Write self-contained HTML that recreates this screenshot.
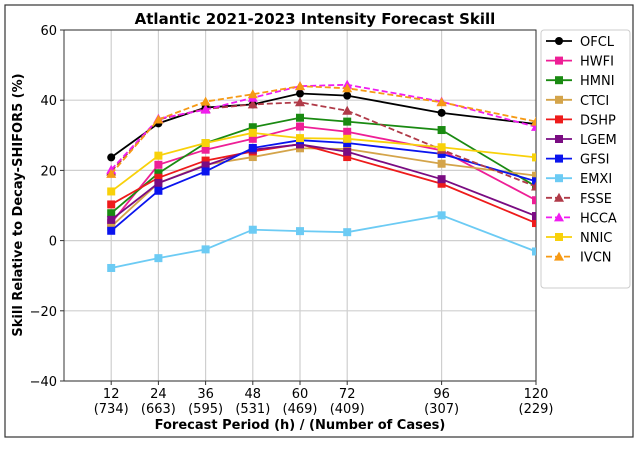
<!DOCTYPE html>
<html><head><meta charset="utf-8"><style>
body{margin:0;background:#fff;}
svg{font-family:"DejaVu Sans","Liberation Sans",sans-serif;}
</style></head><body>
<svg id="c" width="638" height="445" xmlns="http://www.w3.org/2000/svg">
<rect x="5" y="5" width="628" height="432" fill="#fff" stroke="#333" stroke-width="1.2"/>
<text x="315" y="24" text-anchor="middle" font-weight="bold" font-size="15">Atlantic 2021-2023 Intensity Forecast Skill</text>
<text transform="translate(22,205) rotate(-90)" text-anchor="middle" font-weight="bold" font-size="13">Skill Relative to Decay-SHIFOR5 (%)</text>
<text x="300" y="429" text-anchor="middle" font-weight="bold" font-size="13">Forecast Period (h) / (Number of Cases)</text>
<g id="grid"></g><g id="axes"></g><g id="series"></g><g id="legend"></g>
</svg>
<script>
const hours=[12,24,36,48,60,72,96,120];
const cases=["734","663","595","531","469","409","307","229"];
const yTicks=[-40,-20,0,20,40,60];
const OFCL=[23.7,33.4,37.9,38.8,41.9,41.3,36.4,33.2];
const HWFI=[5,21.6,25.9,29,32.5,31,25.7,11.5];
const HMNI=[7.8,19.2,27.8,32.3,35,33.9,31.5,15.4];
const CTCI=[4,16.4,21.6,23.8,26.3,26.1,21.9,18.5];
const DSHP=[10.3,17.9,22.8,25.4,27.5,23.8,16.2,5];
const LGEM=[5.9,16.4,21.4,25.9,27.4,25.3,17.5,7];
const GFSI=[2.8,14.2,19.7,26.4,28.6,27.8,24.7,16.9];
const EMXI=[-7.8,-5,-2.5,3.1,2.7,2.4,7.2,-3.1];
const FSSE=[19.7,34.5,37.5,38.8,39.4,37,25.9,15.4];
const HCCA=[20.2,34.7,37.3,40.7,44,44.4,39.6,32.4];
const NNIC=[14,24.2,27.8,30.7,29.2,29,26.6,23.7];
const IVCN=[19,34.5,39.6,41.7,44,43.4,39.4,33.9];
const series=[
["OFCL",OFCL,"#000000","circle",false],["HWFI",HWFI,"#ee1f96","square",false],
["HMNI",HMNI,"#1a8a12","square",false],["CTCI",CTCI,"#d4a44a","square",false],
["DSHP",DSHP,"#ee1b1b","square",false],["LGEM",LGEM,"#7a0c82","square",false],
["GFSI",GFSI,"#0a14ee","square",false],["EMXI",EMXI,"#6ccbf4","square",false],
["FSSE",FSSE,"#b03a48","tri",true],["HCCA",HCCA,"#f01cf0","tri",true],
["NNIC",NNIC,"#f8d10a","square",false],["IVCN",IVCN,"#f69a14","tri",true]];
const L=64,R=536,T=30,B=381;
const x=h=>L+(h-0)/(120-0)*(R-L);
const y=v=>T+(60-v)/(100)*(B-T);
const NS="http://www.w3.org/2000/svg";
function mk(tag,attrs,parent){const e=document.createElementNS(NS,tag);for(const k in attrs)e.setAttribute(k,attrs[k]);parent.appendChild(e);return e;}
const grid=document.getElementById('grid'),axes=document.getElementById('axes'),sg=document.getElementById('series'),lg=document.getElementById('legend');
hours.forEach((h,i)=>{
 const g=mk('line',{x1:x(h),x2:x(h),y1:T,y2:B,stroke:'#cfcfcf','stroke-width':1.2},grid);
 
 const tk=mk('line',{x1:x(h),x2:x(h),y1:B,y2:B+4,stroke:'#333'},axes);
 
 const t=mk('text',{x:x(h),y:B+17,'text-anchor':'middle','font-size':13},axes);t.textContent=h;
 
 const t2=mk('text',{x:x(h),y:B+32,'text-anchor':'middle','font-size':13},axes);t2.textContent='('+cases[i]+')';
 
});
yTicks.forEach(v=>{
 const g=mk('line',{x1:L,x2:R,y1:y(v),y2:y(v),stroke:'#cfcfcf','stroke-width':1.2},grid);
 
 const tk=mk('line',{x1:L-4,x2:L,y1:y(v),y2:y(v),stroke:'#333'},axes);
 
 const t=mk('text',{x:L-7,y:y(v)+5,'text-anchor':'end','font-size':13},axes);t.textContent=(v<0?'\u2212'+(-v):v);
 
});
const fr=mk('rect',{x:L,y:T,width:R-L,height:B-T,fill:'none',stroke:'#333','stroke-width':1},axes);

function marker(type,cx,cy,col,parent){
 let e;
 if(type==='circle')e=mk('circle',{cx:cx,cy:cy,r:4,fill:col},parent);
 else if(type==='square')e=mk('rect',{x:cx-4,y:cy-4,width:8,height:8,fill:col},parent);
 else e=mk('polygon',{points:`${cx},${cy-5} ${cx-5},${cy+4} ${cx+5},${cy+4}`,fill:col},parent);
 return e;
}
const cp=mk('clipPath',{id:'clip'},document.getElementById('c'));
mk('rect',{x:L,y:T,width:R-L,height:B-T},cp);
sg.setAttribute('clip-path','url(#clip)');
series.forEach(([name,vals,col,mt,dash])=>{
 const g=mk('g',{},sg);
 
 const pts=vals.map((v,i)=>x(hours[i])+','+y(v)).join(' ');
 const pl=mk('polyline',{points:pts,fill:'none',stroke:col,'stroke-width':1.8,'stroke-dasharray':dash?'6,3':'none'},g);
 
 vals.forEach((v,i)=>{const m=marker(mt,x(hours[i]),y(v),col,g);
  });
});
const lb=mk('rect',{x:541,y:30,width:89,height:258,fill:'#fff',stroke:'#ccc',rx:3},lg);

series.forEach(([name,vals,col,mt,dash],i)=>{
 const yy=41+i*19.6;
 const g=mk('g',{},lg);
 
 mk('line',{x1:546,x2:572,y1:yy,y2:yy,stroke:col,'stroke-width':1.8,'stroke-dasharray':dash?'6,3':'none'},g);
 marker(mt,559,yy,col,g);
 const t=mk('text',{x:580,y:yy+5,'font-size':13},g);t.textContent=name;
});
</script>
</body></html>
